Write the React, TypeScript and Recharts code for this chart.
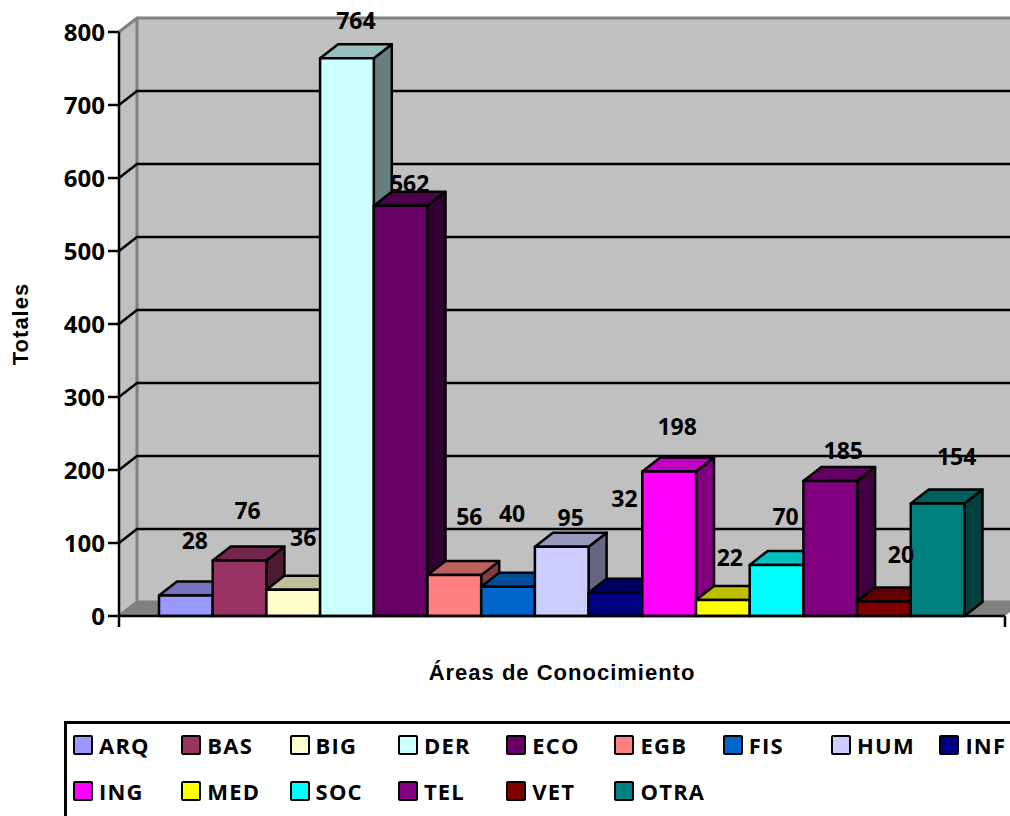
import { BarChart, Bar, XAxis, YAxis, CartesianGrid, Legend, usePlotArea } from "recharts";

const areas = ["ARQ", "BAS", "BIG", "DER", "ECO", "EGB", "FIS", "HUM", "INF", "ING", "MED", "SOC", "TEL", "VET", "OTRA"];
const totals = [28, 76, 36, 764, 562, 56, 40, 95, 32, 198, 22, 70, 185, 20, 154];
const colors = ["#9999FF", "#993366", "#FFFFCC", "#CCFFFF", "#660066", "#FF8080", "#0066CC", "#CCCCFF", "#000080", "#FF00FF", "#FFFF00", "#00FFFF", "#800080", "#800000", "#008080"];
const yTicks = [0, 100, 200, 300, 400, 500, 600, 700, 800];

// the data labels in the original were placed by hand, px above the bar top and px right of centre
const labelLift = [56, 51, 53, 38, 23, 59, 74, 30, 95, 45, 43, 49, 31, 47, 48];
const labelShift = [9, 8, 10, 9, 9, 15, 4, 9, 9, 8, 7, 9, 13, 17, 19];

const row: Record<string, number | string> = { name: "Áreas de Conocimiento" };
areas.forEach((a, i) => {
  row[a] = totals[i];
});
const data = [row];

const DX = 18;
const DY = 14;
const BAR_W = 53.7;
const FONT = "'Open Sans', sans-serif";
const TITLE_FONT = "'Liberation Sans', sans-serif";

function shade(hex: string, k: number) {
  const n = parseInt(hex.slice(1), 16);
  const c = [(n >> 16) & 255, (n >> 8) & 255, n & 255].map((v) => Math.round(v * k));
  return `rgb(${c[0]},${c[1]},${c[2]})`;
}

function Bar3D(props: any) {
  const { x, y, width, height, fill } = props;
  const r = x + width;
  const b = y + height;
  return (
    <g stroke="#000" strokeWidth={2.5} strokeLinejoin="round">
      <polygon points={`${r},${y} ${r + DX},${y - DY} ${r + DX},${b - DY} ${r},${b}`} fill={shade(fill, 0.5)} />
      <polygon points={`${x},${y} ${x + DX},${y - DY} ${r + DX},${y - DY} ${r},${y}`} fill={shade(fill, 0.75)} />
      <rect x={x} y={y} width={width} height={height} fill={fill} />
    </g>
  );
}

function Walls() {
  const plot = usePlotArea();
  if (!plot) return null;
  const { x, y, width, height } = plot;
  const r = x + width;
  const b = y + height;
  return (
    <g>
      <rect x={x + DX} y={y - DY} width={width} height={height} fill="#C0C0C0" />
      <polygon points={`${x},${y} ${x + DX},${y - DY} ${x + DX},${b - DY} ${x},${b}`} fill="#C0C0C0" />
      <polygon points={`${x},${b} ${x + DX},${b - DY} ${r + DX},${b - DY} ${r},${b}`} fill="#808080" />
      <path
        d={`M${x},${y} L${x + DX},${y - DY} L${r + DX},${y - DY} M${x + DX},${y - DY} L${x + DX},${b - DY} L${r + DX},${b - DY} M${x},${b} L${x + DX},${b - DY}`}
        fill="none"
        stroke="#808080"
        strokeWidth={3}
      />
      {/* the axis only has ticks at its two ends */}
      <path d={`M${x},${b} V${b + 11} M${r},${b} V${b + 11}`} stroke="#000" strokeWidth={2.5} fill="none" />
    </g>
  );
}

function gridLine(p: any) {
  // first and last lines are the wall edges, drawn in gray by Walls
  if (p.y1 < 40 || p.y1 > 600) return <g key={p.key} />;
  return (
    <path
      key={p.key}
      d={`M${p.x1},${p.y1} L${p.x1 + DX},${p.y1 - DY} L${p.x2 + DX},${p.y1 - DY}`}
      fill="none"
      stroke="#000"
      strokeWidth={2.5}
    />
  );
}

function LegendBox() {
  return (
    <div
      style={{
        borderTop: "3px solid #000",
        borderLeft: "3px solid #000",
        height: 100,
        width: 980,
        boxSizing: "border-box",
        display: "grid",
        gridTemplateColumns: "repeat(9, 108.3px)",
        gridAutoRows: 46,
        padding: "0 0 0 6px",
        fontFamily: FONT,
        fontWeight: 700,
        fontSize: 22,
        letterSpacing: 1.2,
        color: "#000",
      }}
    >
      {areas.map((a, i) => (
        <div key={a} style={{ display: "flex", alignItems: "center", whiteSpace: "nowrap", position: "relative", top: -2 }}>
          <span
            style={{
              width: 20,
              height: 20,
              boxSizing: "border-box",
              border: "2.5px solid #000",
              borderRadius: 2,
              background: colors[i],
              marginRight: 6,
            }}
          />
          {a}
        </div>
      ))}
    </div>
  );
}

export default function App() {
  return (
    <div style={{ position: "absolute", left: 0, top: 0, width: 1010, height: 816, overflow: "hidden", background: "#fff" }}>
      <BarChart
        width={1010}
        height={816}
        data={data}
        barGap={0}
        margin={{ top: 32, right: 5, bottom: 99, left: 0 }}
      >
        <Walls />
        <CartesianGrid horizontal={gridLine} vertical={false} zIndex={1} />
        <XAxis
          dataKey="name"
          xAxisId={0}
          height={1}
          tick={false}
          tickLine={false}
          axisLine={{ stroke: "#000", strokeWidth: 2.5 }}
          label={{
            value: "Áreas de Conocimiento",
            position: "bottom",
            offset: 47,
            style: { fontFamily: TITLE_FONT, fontWeight: 700, fontSize: 22, letterSpacing: 1, fill: "#000" },
          }}
        />
        <XAxis dataKey="name" xAxisId="labels" orientation="top" height={0} hide />
        <YAxis
          width={119}
          domain={[0, 800]}
          ticks={yTicks}
          interval={0}
          tickSize={11}
          tickMargin={3}
          axisLine={{ stroke: "#000", strokeWidth: 2.5 }}
          tickLine={{ stroke: "#000", strokeWidth: 2.5 }}
          tick={{ fontFamily: FONT, fontWeight: 700, fontSize: 24, fill: "#000" }}
          label={{
            value: "Totales",
            angle: -90,
            position: "insideLeft",
            offset: 20,
            style: { fontFamily: TITLE_FONT, fontWeight: 700, fontSize: 22, letterSpacing: 1, fill: "#000", textAnchor: "middle" },
          }}
        />
        {areas.map((a, i) => (
          <Bar key={a} dataKey={a} xAxisId={0} barSize={BAR_W} fill={colors[i]} shape={Bar3D} isAnimationActive={false} />
        ))}
        {areas.map((a, i) => (
          <Bar
            key={"label-" + a}
            dataKey={a}
            xAxisId="labels"
            barSize={BAR_W}
            fill="none"
            legendType="none"
            isAnimationActive={false}
            label={(p: any) => (
              <text
                x={p.x + p.width / 2 + labelShift[i]}
                y={p.y - labelLift[i]}
                textAnchor="middle"
                dominantBaseline="central"
                fontFamily={FONT}
                fontWeight={700}
                fontSize={23}
                fill="#000"
              >
                {p.value}
              </text>
            )}
          />
        ))}
        <Legend
          content={() => <LegendBox />}
          wrapperStyle={{ position: "absolute", left: 64, top: 721, width: 980, height: 100 }}
        />
      </BarChart>
    </div>
  );
}
